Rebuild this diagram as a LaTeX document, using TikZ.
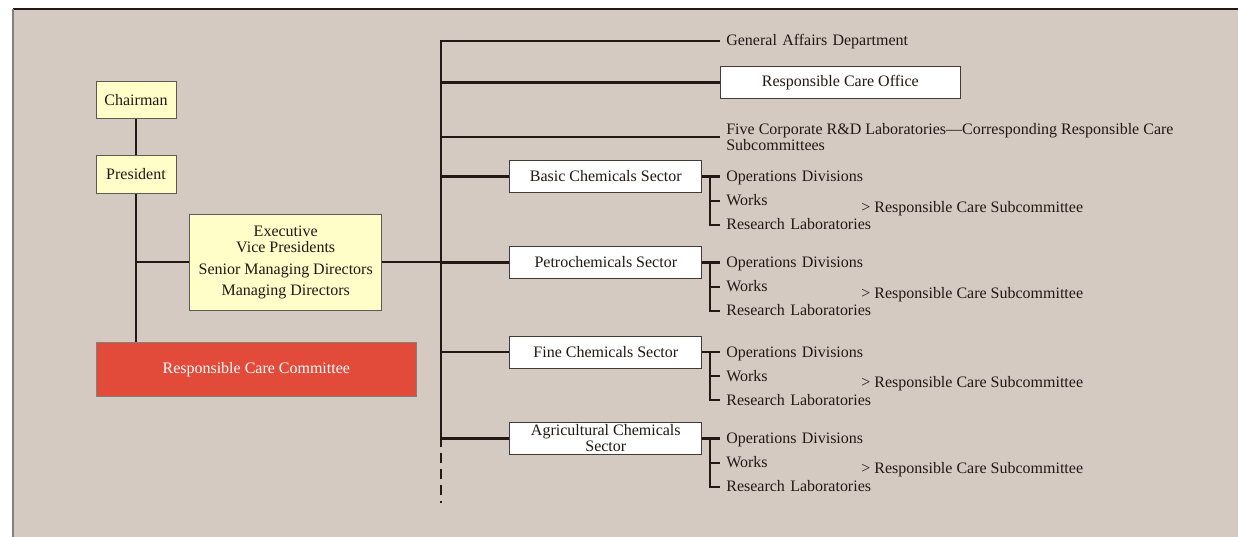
\documentclass[tikz,border=0pt]{standalone}
\usepackage{fontspec}
\setmainfont{Liberation Serif}
\usetikzlibrary{positioning}
\definecolor{panel}{HTML}{D4CAC1}
\definecolor{ink}{HTML}{231815}
\definecolor{boxline}{HTML}{5E5955}
\definecolor{pale}{HTML}{FFFDC8}
\definecolor{rcred}{HTML}{E24A3A}

\begin{document}
\begin{tikzpicture}[
  x=0.02cm, y=-0.02cm,
  font=\fontsize{9.1}{9.1}\selectfont,
  text=ink,
  exec/.style={draw=boxline, fill=pale, line width=0.5pt, align=center, inner sep=0pt},
  unit/.style={draw=ink!85, fill=white, line width=0.6pt, align=center, inner sep=0pt,
    minimum width=3.84cm, minimum height=0.63cm},
  item/.style={anchor=west, align=left, text width=3.3cm, inner xsep=0.12cm, inner ysep=2.45pt,
    text height=7pt, text depth=1.4pt},
  textnote/.style={anchor=west, align=left, inner xsep=0.12cm, inner ysep=0pt},
  note/.style={anchor=west, inner sep=0pt},
  link/.style={draw=ink, line width=1.2pt},
  tail/.style={link, dash pattern=on 5.7pt off 3.4pt, dash phase=5.7pt}
]

% panel
\useasboundingbox (0,0) rectangle (1238,537);
\fill[panel] (13,9) rectangle (1238,537);
\draw[ink, line width=0.8pt] (13,9) -- (1238,9);
\draw[gray, line width=0.6pt] (13,9) -- (13,537);

% top management
\node[exec, minimum width=1.6cm, minimum height=0.75cm] (chair) at (136,99.7) {Chairman};
\node[exec, minimum width=1.6cm, minimum height=0.75cm] (pres) at (136,174.5) {President};
\node[exec, minimum width=3.84cm, minimum height=1.92cm] (board) at (285.7,262.3) {
  Executive\\Vice Presidents\\[3.2pt]Senior Managing Directors\\[2.7pt]Managing Directors
};
\node[draw=gray, fill=rcred, text=white, line width=0.5pt, minimum width=6.4cm, minimum height=1.07cm]
  (rcc) at (256.3,369.2) {Responsible Care Committee};

\draw[link] (chair) -- (pres);
\draw[link] (pres) -- (pres |- rcc.north);
\draw[link] (pres |- board.west) -- (board.west);

% trunk
\coordinate (trunkTop) at (441,41);
\coordinate (trunkEnd) at (441,447);
\coordinate (trunkTail) at (441,503);
\draw[link] (board.east) -- (board.east -| trunkTop);

% staff
\node[item, text width=4cm] (gad) at (720,41) {General Affairs Department};
\node[unit, minimum width=4.8cm] (office) at (840.3,82.5) {Responsible Care Office};
\node[textnote] (five) at (720,136.7) {Five Corporate R\&D Laboratories—Corresponding Responsible Care\\Subcommittees};

\draw[link] (gad.west) -| (trunkEnd);
\draw[tail] (trunkEnd) -- (trunkTail);
\draw[link] (trunkTop |- office.west) -- (office.west);
\draw[link] (trunkTop |- five.west) -- (five.west);

% Basic block
\node[unit] (basic) at (605.8,176.5) {Basic Chemicals Sector};
\node[item] (basicOD) at (720,176.5) {Operations Divisions};
\node[item, below=0pt of basicOD] (basicW) {Works};
\node[item, below=0pt of basicW] (basicRL) {Research Laboratories};
\node[note] (basicRC) at (861,208.3) {> Responsible Care Subcommittee};
\coordinate (basicJ) at (710,176.5);
\draw[link] (trunkTop |- basic.west) -- (basic.west);
\draw[link] (basic.east) -- (basicOD.west);
\draw[link] (basicJ) |- (basicRL.west);
\draw[link] (basicW.west -| basicJ) -- (basicW.west);

% Petro block
\node[unit] (petro) at (605.8,262.5) {Petrochemicals Sector};
\node[item] (petroOD) at (720,262.5) {Operations Divisions};
\node[item, below=0pt of petroOD] (petroW) {Works};
\node[item, below=0pt of petroW] (petroRL) {Research Laboratories};
\node[note] (petroRC) at (861,295) {> Responsible Care Subcommittee};
\coordinate (petroJ) at (710,262.5);
\draw[link] (trunkTop |- petro.west) -- (petro.west);
\draw[link] (petro.east) -- (petroOD.west);
\draw[link] (petroJ) |- (petroRL.west);
\draw[link] (petroW.west -| petroJ) -- (petroW.west);

% Fine block
\node[unit] (fine) at (605.8,352.3) {Fine Chemicals Sector};
\node[item] (fineOD) at (720,352.3) {Operations Divisions};
\node[item, below=0pt of fineOD] (fineW) {Works};
\node[item, below=0pt of fineW] (fineRL) {Research Laboratories};
\node[note] (fineRC) at (861,383.5) {> Responsible Care Subcommittee};
\coordinate (fineJ) at (710,352.3);
\draw[link] (trunkTop |- fine.west) -- (fine.west);
\draw[link] (fine.east) -- (fineOD.west);
\draw[link] (fineJ) |- (fineRL.west);
\draw[link] (fineW.west -| fineJ) -- (fineW.west);

% Agri block
\node[unit] (agri) at (605.8,438.5) {Agricultural Chemicals\\Sector};
\node[item] (agriOD) at (720,438.5) {Operations Divisions};
\node[item, below=0pt of agriOD] (agriW) {Works};
\node[item, below=0pt of agriW] (agriRL) {Research Laboratories};
\node[note] (agriRC) at (861,469.5) {> Responsible Care Subcommittee};
\coordinate (agriJ) at (710,438.5);
\draw[link] (trunkTop |- agri.west) -- (agri.west);
\draw[link] (agri.east) -- (agriOD.west);
\draw[link] (agriJ) |- (agriRL.west);
\draw[link] (agriW.west -| agriJ) -- (agriW.west);

\end{tikzpicture}
\end{document}
